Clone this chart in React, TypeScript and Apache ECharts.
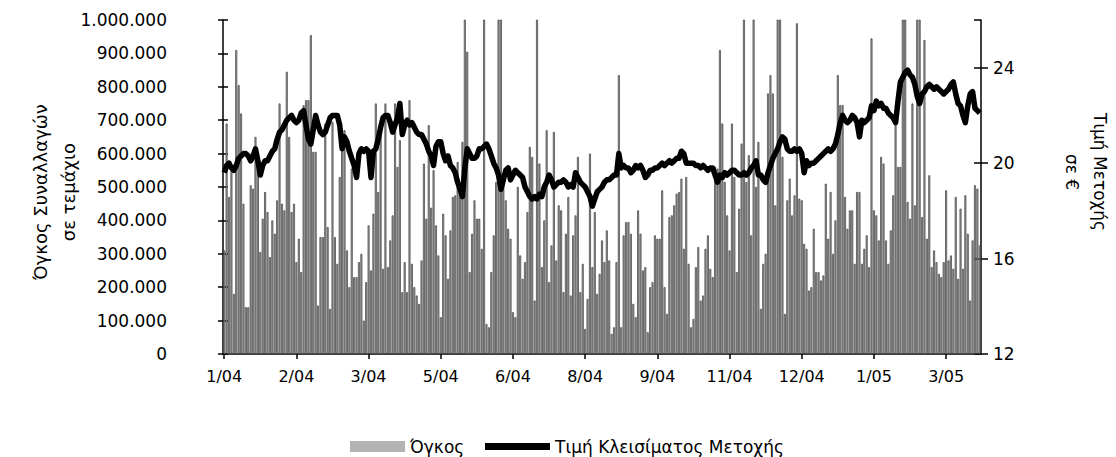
import React, { useEffect, useRef } from "react";
import * as echarts from "echarts";

// Daily trading volume (pieces), Jan 2004 – Mar 2005, five consecutive blocks of 63 sessions
const volSeg1 = [310000, 690000, 470000, 550000, 180000, 910000, 805000, 720000, 450000, 140000, 140000, 505000, 495000, 650000, 555000, 305000, 405000, 485000, 425000, 290000, 400000, 360000, 460000, 750000, 450000, 430000, 845000, 650000, 425000, 450000, 275000, 345000, 245000, 745000, 760000, 760000, 955000, 605000, 605000, 145000, 350000, 350000, 690000, 380000, 135000, 695000, 350000, 270000, 530000, 670000, 670000, 310000, 200000, 555000, 230000, 230000, 275000, 300000, 100000, 215000, 385000, 250000, 420000];
const volSeg2 = [750000, 485000, 665000, 255000, 750000, 260000, 340000, 415000, 750000, 560000, 640000, 185000, 275000, 185000, 760000, 270000, 200000, 175000, 150000, 280000, 570000, 405000, 685000, 438000, 550000, 385000, 295000, 110000, 420000, 355000, 225000, 370000, 470000, 475000, 575000, 475000, 635000, 1150000, 905000, 245000, 360000, 460000, 405000, 405000, 315000, 1100000, 90000, 80000, 245000, 355000, 515000, 1200000, 1100000, 525000, 460000, 375000, 345000, 125000, 110000, 500000, 295000, 225000, 275000];
const volSeg3 = [425000, 620000, 590000, 160000, 1150000, 570000, 260000, 400000, 670000, 215000, 325000, 665000, 280000, 445000, 430000, 185000, 360000, 470000, 175000, 355000, 415000, 590000, 185000, 270000, 75000, 165000, 600000, 260000, 425000, 180000, 240000, 340000, 275000, 370000, 280000, 60000, 80000, 275000, 835000, 80000, 355000, 395000, 395000, 360000, 150000, 110000, 430000, 360000, 250000, 260000, 65000, 200000, 215000, 355000, 345000, 345000, 490000, 200000, 120000, 410000, 415000, 445000, 480000];
const volSeg4 = [485000, 525000, 315000, 530000, 270000, 80000, 105000, 260000, 320000, 160000, 175000, 315000, 355000, 255000, 230000, 560000, 555000, 910000, 690000, 515000, 415000, 310000, 690000, 530000, 245000, 435000, 630000, 1150000, 515000, 595000, 355000, 1200000, 500000, 635000, 135000, 270000, 300000, 780000, 835000, 780000, 445000, 1150000, 1100000, 590000, 120000, 460000, 525000, 415000, 475000, 990000, 465000, 460000, 330000, 315000, 190000, 200000, 375000, 245000, 245000, 220000, 235000, 510000, 345000];
const volSeg5 = [485000, 300000, 400000, 835000, 745000, 745000, 470000, 375000, 430000, 430000, 270000, 485000, 485000, 270000, 315000, 355000, 260000, 945000, 430000, 415000, 340000, 590000, 570000, 340000, 270000, 370000, 475000, 690000, 560000, 560000, 1150000, 1100000, 455000, 405000, 750000, 445000, 1200000, 1100000, 410000, 940000, 345000, 535000, 260000, 310000, 275000, 240000, 230000, 275000, 490000, 280000, 295000, 255000, 470000, 225000, 435000, 255000, 475000, 360000, 160000, 340000, 505000, 495000, 325000];

// Closing share price (€), same sessions
const priceSeg1 = [19.6, 19.9, 20.0, 19.8, 19.7, 19.9, 20.2, 20.3, 20.4, 20.4, 20.3, 20.1, 20.3, 20.6, 20.1, 19.5, 19.9, 20.1, 20.1, 20.3, 20.5, 20.6, 21.0, 21.3, 21.4, 21.6, 21.8, 21.9, 22.0, 21.8, 21.7, 21.8, 22.1, 22.2, 21.6, 21.0, 20.8, 21.4, 22.0, 21.6, 21.3, 21.2, 21.3, 21.6, 21.9, 22.0, 22.0, 22.0, 21.6, 20.6, 21.1, 20.9, 20.5, 20.2, 19.9, 19.4, 20.4, 20.6, 20.5, 20.6, 20.5, 19.4, 20.5];
const priceSeg2 = [20.6, 21.0, 21.5, 21.9, 22.0, 22.0, 21.7, 21.3, 21.6, 21.9, 22.5, 21.2, 21.6, 21.8, 21.6, 21.7, 21.5, 21.3, 21.2, 21.2, 21.0, 20.8, 20.5, 20.3, 19.9, 20.7, 20.9, 20.9, 20.4, 20.1, 20.3, 19.9, 19.8, 19.6, 19.2, 18.9, 18.6, 19.8, 20.6, 20.4, 20.2, 20.2, 20.3, 20.6, 20.6, 20.7, 20.8, 20.6, 20.3, 20.0, 19.8, 19.5, 18.9, 19.3, 19.7, 19.8, 19.3, 19.5, 19.7, 19.6, 19.5, 19.4, 19.0];
const priceSeg3 = [18.8, 18.6, 18.5, 18.6, 18.5, 18.7, 18.6, 19.0, 19.2, 19.5, 19.3, 19.0, 19.1, 19.2, 19.2, 19.3, 19.2, 19.0, 19.1, 19.0, 19.6, 19.4, 19.2, 19.1, 19.0, 18.8, 18.6, 18.2, 18.5, 18.8, 18.9, 19.0, 19.2, 19.3, 19.3, 19.4, 19.5, 19.5, 20.4, 19.8, 19.9, 19.8, 19.8, 19.6, 19.7, 19.9, 19.8, 19.9, 19.7, 19.4, 19.5, 19.7, 19.7, 19.8, 19.8, 19.9, 20.0, 19.9, 20.0, 20.1, 20.0, 20.1, 20.2];
const priceSeg4 = [20.2, 20.5, 20.4, 20.0, 20.0, 20.0, 20.0, 19.9, 19.9, 19.8, 19.9, 19.8, 19.7, 19.8, 19.8, 19.5, 19.2, 19.5, 19.4, 19.6, 19.5, 19.6, 19.7, 19.7, 19.6, 19.5, 19.5, 19.6, 19.5, 19.6, 19.8, 19.9, 20.1, 19.5, 19.5, 19.3, 19.2, 19.6, 19.9, 20.2, 20.4, 20.6, 20.9, 21.1, 21.0, 20.6, 20.5, 20.5, 20.6, 20.5, 20.6, 20.4, 19.6, 20.1, 19.9, 20.0, 20.0, 20.1, 20.2, 20.3, 20.4, 20.5, 20.6];
const priceSeg5 = [20.5, 20.6, 20.8, 21.2, 21.7, 22.0, 21.8, 21.7, 21.8, 22.0, 21.9, 21.7, 21.1, 21.8, 21.7, 21.8, 21.9, 22.4, 22.2, 22.6, 22.4, 22.5, 22.3, 22.3, 22.1, 22.0, 21.9, 21.7, 22.6, 23.4, 23.6, 23.8, 23.9, 23.7, 23.6, 23.3, 22.8, 22.5, 22.9, 23.0, 23.2, 23.3, 23.2, 23.1, 23.2, 23.1, 23.0, 22.9, 23.0, 23.1, 23.3, 23.4, 22.9, 22.5, 22.4, 22.0, 21.7, 22.4, 22.9, 23.0, 22.3, 22.2, 22.1];

// Month labels shown every 30 sessions
const monthTicks = ["1/04", "2/04", "3/04", "5/04", "6/04", "8/04", "9/04", "11/04", "12/04", "1/05", "3/05"];
const labelEvery = 30;

const volume = [...volSeg1, ...volSeg2, ...volSeg3, ...volSeg4, ...volSeg5];
const price = [...priceSeg1, ...priceSeg2, ...priceSeg3, ...priceSeg4, ...priceSeg5];
const sessions = volume.map((_, i) => String(i + 1));

const VOL_NAME = "Όγκος";
const PRICE_NAME = "Τιμή Κλεισίματος Μετοχής";
const FONT = "'DejaVu Sans', Verdana, sans-serif";

const thousands = (v: number) => String(v).replace(/\B(?=(\d{3})+(?!\d))/g, ".");

export default function App() {
  const ref = useRef<HTMLDivElement>(null);
  useEffect(() => {
    if (!ref.current) return;
    const chart = echarts.init(ref.current, null, { renderer: "svg" });
    const showIdx = (i: number) => i % labelEvery === 0;
    chart.setOption({
      animation: false,
      backgroundColor: "#ffffff",
      textStyle: { fontFamily: FONT, color: "#000" },
      grid: { left: 223, right: 135, top: 20, bottom: 103, containLabel: false },
      legend: [
        {
          data: [{ name: VOL_NAME, icon: "rect", itemStyle: { color: "#b3b3b3", borderWidth: 0 } }],
          left: 345,
          top: 433,
          itemWidth: 55,
          itemHeight: 11,
          textStyle: { fontFamily: FONT, fontSize: 17, color: "#000" },
        },
        {
          data: [{ name: PRICE_NAME, icon: "rect", itemStyle: { color: "#000" } }],
          left: 480,
          top: 433,
          itemWidth: 65,
          itemHeight: 7,
          textStyle: { fontFamily: FONT, fontSize: 17, color: "#000" },
        },
      ],
      xAxis: {
        type: "category",
        data: sessions,
        boundaryGap: true,
        axisLine: { show: true, lineStyle: { color: "#000", width: 1.5 } },
        axisTick: { show: true, interval: (i: number) => showIdx(i), alignWithLabel: true, length: 5, lineStyle: { color: "#000", width: 1.5 } },
        axisLabel: {
          interval: (i: number) => showIdx(i),
          formatter: (_v: string, i: number) => (showIdx(i) ? monthTicks[i / labelEvery] ?? "" : ""),
          fontSize: 16,
          fontFamily: FONT,
          color: "#000",
          margin: 14,
        },
        splitLine: { show: false },
      },
      yAxis: [
        {
          type: "value",
          position: "left",
          min: 0,
          max: 1000000,
          interval: 100000,
          axisLine: { show: true, lineStyle: { color: "#000", width: 1.5 } },
          axisTick: { show: true, length: 5, lineStyle: { color: "#000", width: 1.5 } },
          axisLabel: { formatter: (v: number) => thousands(v), fontSize: 17, fontFamily: FONT, color: "#000", margin: 56 },
          splitLine: { show: false },
        },
        {
          type: "value",
          position: "right",
          min: 12,
          max: 26,
          interval: 4,
          axisLine: { show: true, lineStyle: { color: "#000", width: 1.5 } },
          axisTick: { show: true, length: 7, lineStyle: { color: "#000", width: 1.5 } },
          axisLabel: { fontSize: 17, fontFamily: FONT, color: "#000", margin: 12, showMaxLabel: false },
          splitLine: { show: false },
        },
        {
          type: "value",
          position: "left",
          min: 0,
          max: 1000000,
          interval: 100000,
          axisLine: { show: false },
          axisTick: { show: true, inside: true, length: 5, lineStyle: { color: "#000", width: 1.5 } },
          axisLabel: { show: false },
          splitLine: { show: false },
        },
        {
          type: "value",
          position: "right",
          min: 12,
          max: 26,
          interval: 4,
          axisLine: { show: false },
          axisTick: { show: true, inside: true, length: 7, lineStyle: { color: "#000", width: 1.5 } },
          axisLabel: { show: false },
          splitLine: { show: false },
        },
      ],
      graphic: [
        {
          type: "text",
          x: 54,
          y: 192,
          rotation: Math.PI / 2,
          style: {
            text: "Όγκος Συναλλαγών\nσε τεμάχιο",
            fontFamily: FONT,
            fontSize: 18,
            lineHeight: 28,
            fill: "#000",
            align: "center",
            verticalAlign: "middle",
          },
        },
        {
          type: "text",
          x: 1086,
          y: 172,
          rotation: -Math.PI / 2,
          style: {
            text: "Τιμή Μετοχής\nσε €",
            fontFamily: FONT,
            fontSize: 17,
            lineHeight: 28,
            fill: "#000",
            align: "center",
            verticalAlign: "middle",
          },
        },
      ],
      series: [
        {
          name: VOL_NAME,
          type: "bar",
          yAxisIndex: 0,
          data: volume,
          barCategoryGap: "20%",
          clip: true,
          itemStyle: { color: "#a6a6a6", borderColor: "#3c3c3c", borderWidth: 0.7 },
        },
        {
          name: PRICE_NAME,
          type: "line",
          yAxisIndex: 1,
          data: price,
          showSymbol: false,
          symbol: "none",
          lineStyle: { color: "#000", width: 5.5, join: "round" },
          itemStyle: { color: "#000" },
          z: 5,
        },
      ],
    });
    return () => chart.dispose();
  }, []);
  return <div ref={ref} style={{ position: "fixed", left: 0, top: 0, width: 1116, height: 457 }} />;
}
